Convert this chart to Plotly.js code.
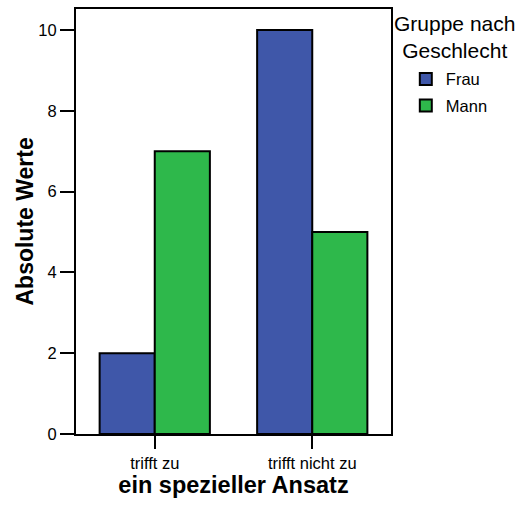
<!DOCTYPE html>
<html>
<head>
<meta charset="utf-8">
<script src="https://cdn.plot.ly/plotly-3.0.1.min.js"></script>
<style>html,body{margin:0;padding:0;background:#fff}#chart{width:522px;height:506px}</style>
</head>
<body>
<div id="chart"></div>
<script>
const categories = ["trifft zu", "trifft nicht zu"];
const seriesNames = ["Frau", "Mann"];
const frauValues = [2, 10];
const mannValues = [7, 5];
const yTickValues = [0, 2, 4, 6, 8, 10];
const colors = ["#3F57A9", "#2EB84B"];

const font = "Liberation Sans, Arial, sans-serif";
const traces = [frauValues, mannValues].map((vals, i) => ({
  type: "bar",
  name: seriesNames[i],
  x: categories,
  y: vals,
  legendgroup: seriesNames[i],
  marker: {color: colors[i], line: {color: "#000", width: 2}},
  hoverinfo: "x+y+name"
}));

const layout = {
  width: 522, height: 506,
  margin: {l: 76, r: 131, t: 9, b: 72},
  paper_bgcolor: "#fff", plot_bgcolor: "#fff",
  font: {family: font, color: "#000"},
  barmode: "group",
  bargap: 0.3,
  bargroupgap: 0,
  showlegend: true,
  legend: {
    x: 1.047, xanchor: "left", y: 0.876, yanchor: "top",
    font: {size: 16.5, family: font},
    tracegroupgap: 2,
    bgcolor: "rgba(0,0,0,0)"
  },
  annotations: [{
    text: "Gruppe nach<br>Geschlecht",
    xref: "paper", yref: "paper",
    x: 1.203, xanchor: "center",
    y: 0.997, yanchor: "top",
    showarrow: false,
    font: {size: 21, family: font}
  }, {
    text: "<b>Absolute Werte</b>",
    xref: "paper", yref: "paper",
    x: -0.165, xanchor: "center",
    y: 0.5, yanchor: "middle",
    textangle: -90,
    showarrow: false,
    font: {size: 23, family: font}
  }],
  xaxis: {
    type: "category",
    range: [-0.5, 1.5],
    showline: true, linecolor: "#000", linewidth: 2, mirror: true,
    ticks: "outside", ticklen: 13, tickwidth: 2, tickcolor: "#000",
    tickfont: {size: 16.5, family: font},
    showgrid: false, zeroline: false,
    title: {text: "<b>ein spezieller Ansatz</b>", font: {size: 23.5, family: font}, standoff: 6}
  },
  yaxis: {
    range: [0, 10.52],
    tickvals: yTickValues,
    showline: true, linecolor: "#000", linewidth: 2, mirror: true,
    ticks: "outside", ticklen: 14, tickwidth: 2, tickcolor: "#000",
    tickfont: {size: 16.5, family: font},
    showgrid: false, zeroline: false
  }
};

Plotly.newPlot("chart", traces, layout, {displayModeBar: false});
</script>
</body>
</html>
